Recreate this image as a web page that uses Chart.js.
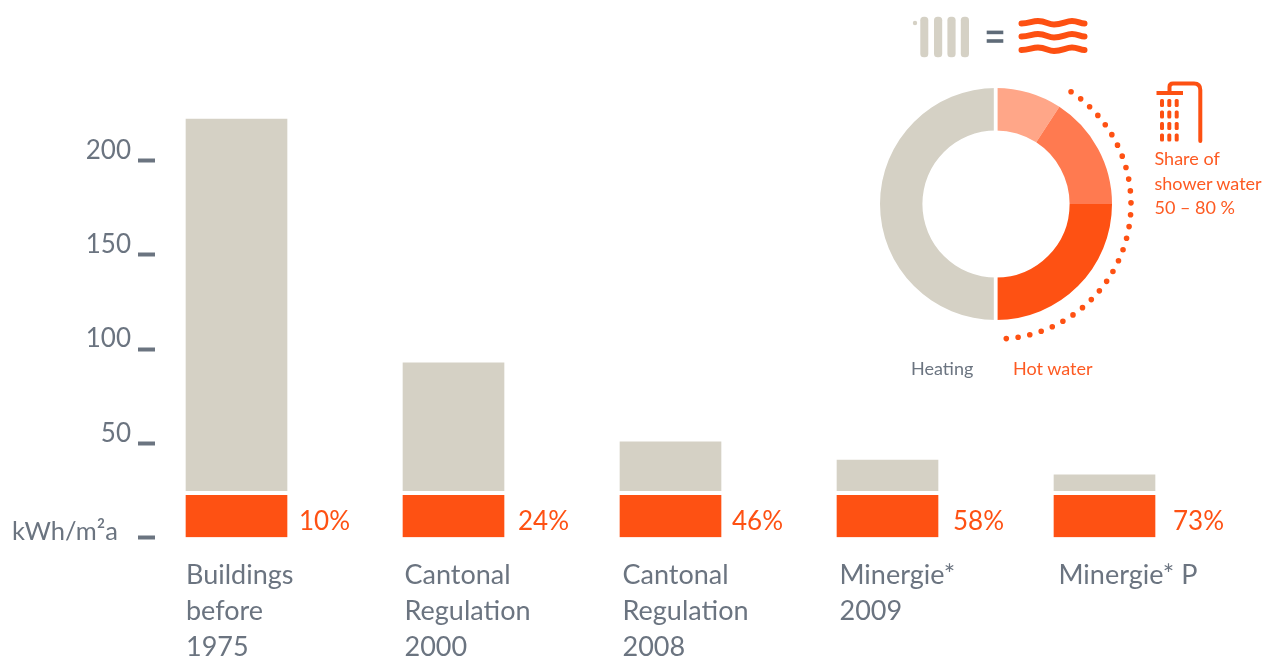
<!DOCTYPE html>
<html>
<head>
<meta charset="utf-8">
<title>Energy demand by building standard</title>
<script src="https://cdn.jsdelivr.net/npm/chart.js@4"></script>
<style>
  html, body { margin: 0; padding: 0; background: #fff; width: 1264px; height: 657px; overflow: hidden; }
  canvas { position: absolute; }
  #bars { left: 0; top: 0; }
  #donut { left: 846px; top: 54px; }
  svg { position: absolute; left: 0; top: 0; }
  .note { position: absolute; font-family: Lato, sans-serif; font-size: 18px; line-height: 24.5px; white-space: nowrap; }
  .orange { color: #fd5a22; }
  .slate { color: #6b7480; }
</style>
</head>
<body>
<canvas id="bars" width="1264" height="657"></canvas>
<canvas id="donut" width="300" height="300"></canvas>

<svg width="1264" height="657" xmlns="http://www.w3.org/2000/svg">
  <!-- radiator -->
  <g fill="#d5d1c5">
    <circle cx="915" cy="23" r="2.2" />
    <rect x="920.3" y="16.7" width="8" height="40.6" rx="3.5" />
    <rect x="934" y="16.7" width="8.2" height="40.6" rx="3.5" />
    <rect x="947.4" y="16.7" width="8.2" height="40.6" rx="3.5" />
    <rect x="960.8" y="16.7" width="8.2" height="40.6" rx="3.5" />
  </g>
  <!-- equals sign -->
  <g fill="#5f6b78">
    <rect x="986.7" y="30.6" width="16.6" height="3.6" />
    <rect x="986.7" y="39.2" width="16.6" height="3.6" />
  </g>
  <!-- heat waves -->
  <g fill="none" stroke="#fd5012" stroke-width="6" stroke-linecap="round">
    <path d="M1021.5 23.5 C1029 23.5 1032 21 1038 21 C1046 21 1048 24.5 1054 24.5 C1062 24.5 1066 21 1072 21 C1078 21 1080 23.5 1084.5 23.5" />
    <path d="M1021.5 36.5 C1029 36.5 1032 34 1038 34 C1046 34 1048 37.5 1054 37.5 C1062 37.5 1066 34 1072 34 C1078 34 1080 36.5 1084.5 36.5" />
    <path d="M1021.5 50 C1029 50 1032 47.5 1038 47.5 C1046 47.5 1048 51 1054 51 C1062 51 1066 47.5 1072 47.5 C1078 47.5 1080 50 1084.5 50" />
  </g>
  <!-- shower -->
  <g fill="none" stroke="#fd5012" stroke-width="4" stroke-linecap="round">
    <path d="M1169.5 91 V87 Q1169.5 83.5 1173 83.5 H1194 Q1200.3 83.5 1200.3 90 V141" />
    <path d="M1156.5 93 H1183" stroke-linecap="butt" />
  </g>
  <g fill="#fd5012" id="spray">
    <rect x="1160" y="99" width="4" height="8" rx="1.5"/><rect x="1167.3" y="99" width="4" height="8" rx="1.5"/><rect x="1174.7" y="99" width="4" height="8" rx="1.5"/>
    <rect x="1160" y="110.5" width="4" height="8" rx="1.5"/><rect x="1167.3" y="110.5" width="4" height="8" rx="1.5"/><rect x="1174.7" y="110.5" width="4" height="8" rx="1.5"/>
    <rect x="1160" y="122" width="4" height="8" rx="1.5"/><rect x="1167.3" y="122" width="4" height="8" rx="1.5"/><rect x="1174.7" y="122" width="4" height="8" rx="1.5"/>
    <rect x="1160" y="133.5" width="4" height="8" rx="1.5"/><rect x="1167.3" y="133.5" width="4" height="8" rx="1.5"/><rect x="1174.7" y="133.5" width="4" height="8" rx="1.5"/>
  </g>
</svg>

<div class="note slate" style="left:911px; top:356px;">Heating</div>
<div class="note orange" style="left:1013px; top:356px;">Hot water</div>
<div class="note orange" style="left:1154.5px; top:146px;">Share of<br>shower water<br>50 – 80 %</div>

<script>
// Specific energy demand per building standard (kWh/m²a)
const categories = [
  ['Buildings', 'before', '1975'],
  ['Cantonal', 'Regulation', '2000'],
  ['Cantonal', 'Regulation', '2008'],
  ['Minergie*', '2009'],
  ['Minergie* P']
];
const hotWater = [22.4, 22.4, 22.4, 22.4, 22.4];
const heatingFloor = [24.8, 24.8, 24.8, 24.8, 24.8];
const heatingTop = [222, 92.6, 50.7, 41.1, 33.2];
const hotWaterShare = ['10%', '24%', '46%', '58%', '73%'];
const yTicks = { 0: 'kWh/m²a\u00a0\u00a0', 50: '50', 100: '100', 150: '150', 200: '200' };

// Annual split of one household's energy: shower share, other hot water, rest of hot water, heating
const splitLabels = ['Shower, low estimate', 'Shower, high estimate', 'Other hot water', 'Heating'];
const splitValues = [9.2, 15.8, 25, 50];

const ORANGE = '#fe5113';
const SAND = '#d5d1c5';
const SLATE = '#6b7480';
const FONT = 'Lato, sans-serif';

// Horizontal mapping shared by both x scales: one unit per column, 217px wide
const UNIT = 217;
const barCentre = 236.5;
const barEdge = 186;
const plotLeft = 155;
const plotRight = 1264;
const labelNudge = [0, 1.5, 2.5, 2.5, 4.5];
const shareGap = [12, 14, 11, 15, 18];

const shareLabels = {
  id: 'shareLabels',
  afterDatasetsDraw(chart) {
    const { ctx, scales: { x, y } } = chart;
    ctx.save();
    ctx.font = '400 26px ' + FONT;
    ctx.fillStyle = ORANGE;
    ctx.textAlign = 'left';
    ctx.textBaseline = 'middle';
    hotWaterShare.forEach((text, i) => {
      ctx.fillText(text, x.getPixelForValue(i) + 50.5 + shareGap[i], y.getPixelForValue(8.5));
    });
    ctx.restore();
  }
};

new Chart(document.getElementById('bars'), {
  type: 'bar',
  data: {
    datasets: [
      {
        label: 'Heating',
        data: categories.map((_, i) => ({ x: i, y: [heatingFloor[i], heatingTop[i]] })),
        backgroundColor: SAND,
        barThickness: 101,
        grouped: false
      },
      {
        label: 'Hot water',
        data: categories.map((_, i) => ({ x: i, y: [0, hotWater[i]] })),
        backgroundColor: ORANGE,
        barThickness: 101,
        grouped: false
      }
    ]
  },
  plugins: [shareLabels],
  options: {
    responsive: false,
    animation: false,
    events: [],
    layout: { padding: { top: 85.1, left: 0, right: 0, bottom: 0 } },
    plugins: { legend: { display: false }, tooltip: { enabled: false } },
    scales: {
      x: {
        type: 'linear',
        display: false,
        bounds: 'data',
        offset: false,
        min: (plotLeft - barCentre) / UNIT,
        max: (plotRight - barCentre) / UNIT
      },
      columnLabels: {
        type: 'linear',
        axis: 'x',
        position: 'bottom',
        bounds: 'data',
        offset: false,
        min: (plotLeft - barEdge) / UNIT,
        max: (plotRight - barEdge) / UNIT,
        grid: { display: false, drawTicks: false },
        border: { display: false },
        afterBuildTicks(scale) {
          scale.ticks = categories.map((_, i) => ({ value: i + labelNudge[i] / UNIT }));
        },
        afterFit(scale) {
          scale.height = 119.5;
          scale.paddingLeft = 0;
          scale.paddingRight = 0;
        },
        ticks: {
          align: 'start',
          autoSkip: false,
          maxRotation: 0,
          minRotation: 0,
          padding: 20,
          color: SLATE,
          font: { family: FONT, size: 27, weight: '400', lineHeight: 36 / 27 },
          callback: (value, index) => categories[index]
        }
      },
      y: {
        type: 'linear',
        position: 'left',
        min: 0,
        max: 240,
        afterFit(scale) { scale.width = plotLeft; },
        grid: { drawOnChartArea: false, drawTicks: true, tickLength: 17, tickWidth: 4, tickColor: SLATE },
        border: { display: false },
        ticks: {
          stepSize: 50,
          includeBounds: false,
          padding: 7,
          color: SLATE,
          font: ctx => (ctx.tick && ctx.tick.value === 0)
            ? { family: FONT, size: 25.5, weight: '400', lineHeight: 12 / 25.5 }
            : { family: FONT, size: 26, weight: '400', lineHeight: 20 / 26 },
          callback: value => [yTicks[value], '']
        }
      }
    }
  }
});

// Clear seam down the middle of the ring, plus the dotted arc for the shower range
const ringDetails = {
  id: 'ringDetails',
  afterDatasetsDraw(chart) {
    const { ctx } = chart;
    const arc = chart.getDatasetMeta(0).data[0];
    const { x, y, outerRadius, innerRadius } = arc.getProps(['x', 'y', 'outerRadius', 'innerRadius'], true);
    ctx.save();
    ctx.fillStyle = '#fff';
    ctx.fillRect(x - 2.2, y - outerRadius - 1, 3.8, outerRadius - innerRadius + 2);
    ctx.fillRect(x - 2.2, y + innerRadius - 1, 3.8, outerRadius - innerRadius + 2);

    const top = -Math.PI / 2;
    const start = top + splitValues[0] / 100 * 2 * Math.PI * 1.02;
    const end = top + 175.8 / 180 * Math.PI;
    ctx.beginPath();
    ctx.arc(x, y, 135, start, end);
    ctx.strokeStyle = ORANGE;
    ctx.lineWidth = 5.6;
    ctx.lineCap = 'round';
    ctx.setLineDash([0, 11.93]);
    ctx.stroke();
    ctx.restore();
  }
};

new Chart(document.getElementById('donut'), {
  type: 'doughnut',
  data: {
    labels: splitLabels,
    datasets: [{
      data: splitValues,
      backgroundColor: ['#ffa688', '#ff7a50', ORANGE, SAND],
      borderWidth: 0
    }]
  },
  plugins: [ringDetails],
  options: {
    responsive: false,
    animation: false,
    events: [],
    radius: 116,
    cutout: '63.45%',
    layout: { padding: 0 },
    plugins: { legend: { display: false }, tooltip: { enabled: false } }
  }
});
</script>
</body>
</html>
